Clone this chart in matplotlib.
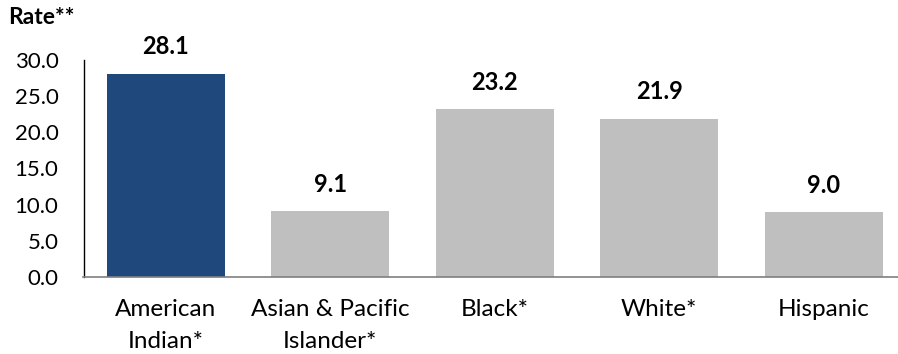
import matplotlib.pyplot as plt

# Rates by race/ethnicity
groups = ['American\nIndian*', 'Asian & Pacific\nIslander*', 'Black*', 'White*', 'Hispanic']
rates = [28.1, 9.1, 23.2, 21.9, 9.0]
colors = ['#1F497D', '#BFBFBF', '#BFBFBF', '#BFBFBF', '#BFBFBF']
yticks = [0, 5, 10, 15, 20, 25, 30]

plt.rcParams['font.family'] = ['Lato', 'DejaVu Sans']

fig = plt.figure(figsize=(8.98, 3.54), dpi=100)
ax = fig.add_axes([83.5 / 898, 1 - 277 / 354, (906 - 83.5) / 898, (277 - 60) / 354])

x = range(len(groups))
bars = ax.bar(x, rates, width=0.72, color=colors)

for b, v in zip(bars, rates):
    ax.annotate(f'{v:.1f}', (b.get_x() + b.get_width() / 2, v), xytext=(0, 11),
                textcoords='offset points', ha='center', va='bottom',
                fontsize=17, fontweight='bold')

ax.set_xlim(-0.5, 4.5)
ax.set_ylim(0, 30)
ax.set_yticks(yticks)
ax.set_yticklabels([f'{t:.1f}' for t in yticks], fontsize=16)
ax.set_xticks(list(x))
ax.set_xticklabels(groups, fontsize=17.5, linespacing=1.65)
ax.tick_params(axis='y', length=0, pad=18)
ax.tick_params(axis='x', length=0, pad=16)

ax.spines['top'].set_visible(False)
ax.spines['right'].set_visible(False)
ax.spines['left'].set_color('black')
ax.spines['left'].set_linewidth(1)
ax.spines['bottom'].set_color('#7F7F7F')
ax.spines['bottom'].set_linewidth(1.2)

fig.text(8 / 898, 1 - 18 / 354, 'Rate**', fontsize=16.5, fontweight='bold', va='center')

fig.savefig('out.png', dpi=100)
